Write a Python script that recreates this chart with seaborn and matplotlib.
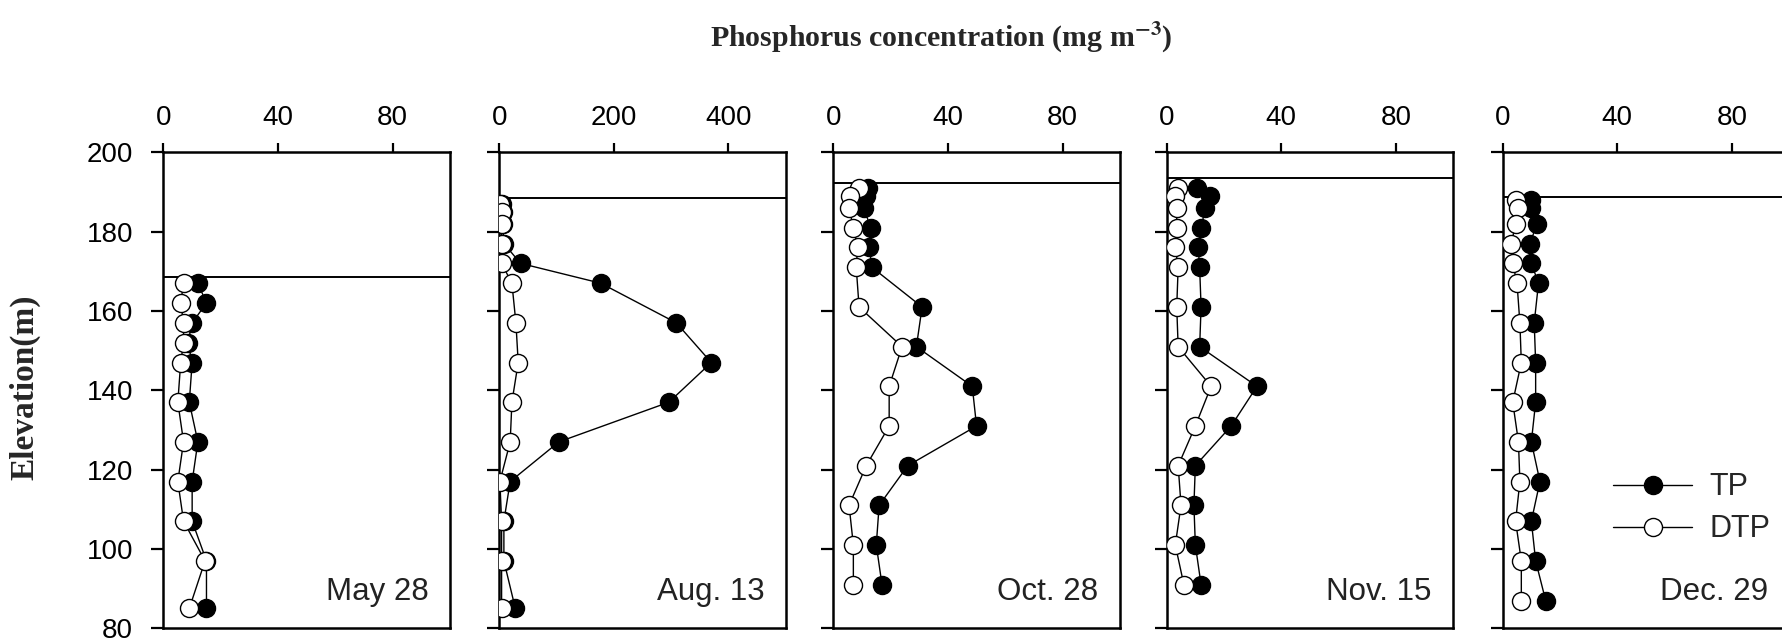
import matplotlib
matplotlib.use("Agg")
import matplotlib.pyplot as plt
import seaborn as sns
import pandas as pd
from matplotlib.lines import Line2D

# ---------------- data ----------------
dates = ["May 28", "Aug. 13", "Oct. 28", "Nov. 15", "Dec. 29"]
surface_level = [168.6, 188.4, 192.3, 193.4, 188.8]
x_max = [100, 500, 100, 100, 100]
x_ticks = [[0, 40, 80], [0, 200, 400], [0, 40, 80], [0, 40, 80], [0, 40, 80]]
y_ticks = [80, 100, 120, 140, 160, 180, 200]

may_elev = [167, 162, 157, 152, 147, 137, 127, 117, 107, 97, 85]
may_tp = [12, 15, 10, 8.5, 10, 9, 12, 10, 10, 15, 15]
may_dtp = [7, 6, 7, 7, 6, 5, 7, 5, 7, 14.5, 9]

aug_elev = [187, 185, 182, 177, 172, 167, 157, 147, 137, 127, 117, 107, 97, 85]
aug_tp = [5, 6, 6, 8, 37, 177, 309, 370, 296, 104, 19, 8, 8, 28]
aug_dtp = [2, 4, 4, 4, 4, 22, 29, 33, 22, 19, 1, 4, 4, 4]

oct_elev = [191, 189, 186, 181, 176, 171, 161, 151, 141, 131, 121, 111, 101, 91]
oct_tp = [12, 11.5, 10.7, 13, 12.5, 13.5, 31, 29, 48.5, 50, 26, 16, 15, 17]
oct_dtp = [9, 6, 5.5, 7, 8.5, 8, 9, 24, 19.5, 19.5, 11.5, 5.5, 7, 7]

nov_elev = [191, 189, 186, 181, 176, 171, 161, 151, 141, 131, 121, 111, 101, 91]
nov_tp = [10.5, 15, 13.5, 12, 11, 11.5, 12, 11.5, 31.5, 22.5, 10, 9.5, 10, 12]
nov_dtp = [4, 3, 3.5, 3.5, 3, 4, 3.5, 4, 15.5, 10, 4, 5, 3, 6]

dec_elev = [188, 186, 182, 177, 172, 167, 157, 147, 137, 127, 117, 107, 97, 87]
dec_tp = [10, 10, 12, 9.5, 10, 12.5, 11, 11.5, 11.5, 10, 13, 10, 11.5, 15]
dec_dtp = [4.5, 5.5, 4.5, 3, 3.5, 5, 6, 6.5, 3.5, 5.5, 6, 4.5, 6.5, 6.5]

elevs = [may_elev, aug_elev, oct_elev, nov_elev, dec_elev]
tps = [may_tp, aug_tp, oct_tp, nov_tp, dec_tp]
dtps = [may_dtp, aug_dtp, oct_dtp, nov_dtp, dec_dtp]

# ---------------- style ----------------
sns.set_style("ticks")
plt.rcParams["font.family"] = ["Liberation Sans", "DejaVu Sans"]
plt.rcParams["mathtext.fontset"] = "stix"

W, H = 1783, 641
fig = plt.figure(figsize=(W / 100, H / 100), dpi=100)

lefts_px = [163.5, 499.3, 833.3, 1166.7, 1502.7]
top_px, bottom_px, width_px = 152.3, 628.3, 286.5

ms = 13
for i in range(5):
    ax = fig.add_axes([lefts_px[i] / W, 1 - bottom_px / H,
                       width_px / W, (bottom_px - top_px) / H])
    df = pd.DataFrame({"elev": elevs[i], "TP": tps[i], "DTP": dtps[i]})
    sns.lineplot(data=df, x="TP", y="elev", sort=False, estimator=None, ax=ax,
                 color="black", lw=1, marker="o", markersize=ms,
                 markerfacecolor="black", markeredgecolor="black",
                 markeredgewidth=1, zorder=3)
    sns.lineplot(data=df, x="DTP", y="elev", sort=False, estimator=None, ax=ax,
                 color="black", lw=1, marker="o", markersize=ms,
                 markerfacecolor="white", markeredgecolor="black",
                 markeredgewidth=1, zorder=4)
    ax.axhline(surface_level[i], color="black", lw=1.4, zorder=2)
    ax.set_xlim(0, x_max[i])
    ax.set_ylim(80, 200)
    ax.set_xticks(x_ticks[i])
    ax.set_yticks(y_ticks)
    ax.xaxis.tick_top()
    ax.set_xlabel("")
    ax.set_ylabel("")
    if i > 0:
        ax.set_yticklabels([])
    ax.tick_params(axis="x", direction="out", length=6.5, width=1.6, pad=9,
                   labelsize=20, colors="black", top=True, bottom=False)
    ax.tick_params(axis="y", direction="out", length=9, width=1.6, pad=13,
                   labelsize=20, colors="black", left=True, right=False)
    for sp in ax.spines.values():
        sp.set_visible(True)
        sp.set_linewidth(1.8)
        sp.set_color("black")
    ax.text(0.925, 0.06, dates[i], transform=ax.transAxes, ha="right",
            va="baseline", fontsize=22.5, color="#222222")
    if i == 4:
        handles = [
            Line2D([], [], color="black", lw=1, marker="o", markersize=ms,
                   markerfacecolor="black", markeredgecolor="black"),
            Line2D([], [], color="black", lw=1, marker="o", markersize=ms,
                   markerfacecolor="white", markeredgecolor="black"),
        ]
        ax.legend(handles, ["TP", "DTP"], loc="center left",
                  bbox_to_anchor=(0.385, 0.252), frameon=False, fontsize=22,
                  borderpad=0, borderaxespad=0, handlelength=2.6,
                  handletextpad=0.55, labelspacing=0.4)

fig.text(941 / W, 1 - 38 / H, r"Phosphorus concentration (mg m$^{\mathbf{-3}}$)",
         ha="center", va="center", fontsize=21.5, fontweight="bold",
         family=["Liberation Serif", "DejaVu Serif"])
fig.text(25 / W, 1 - 387 / H, "Elevation(m)", rotation=90, ha="center",
         va="center", fontsize=24, fontweight="bold",
         family=["Liberation Serif", "DejaVu Serif"])

fig.savefig("out.png", dpi=100)
